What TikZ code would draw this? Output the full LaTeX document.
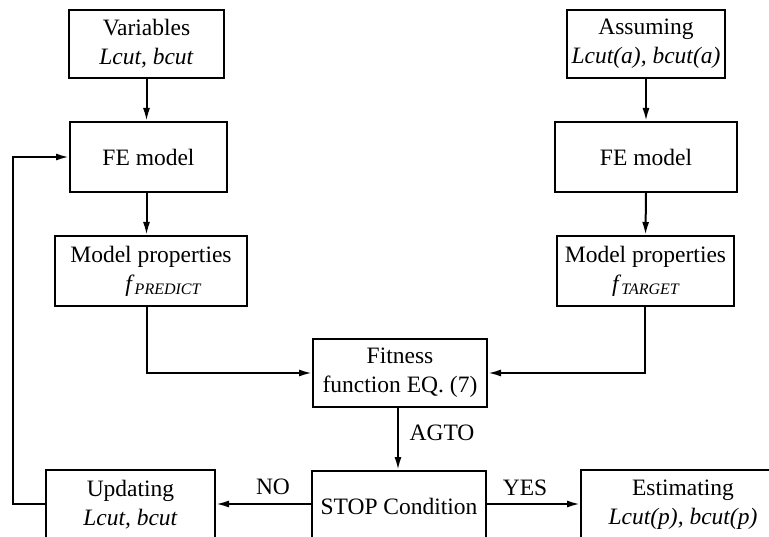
\documentclass[tikz,border=0pt]{standalone}
\usepackage{fontspec}
\setmainfont{Liberation Serif}
\usetikzlibrary{arrows.meta}
\newcommand{\subtxt}[1]{\raisebox{-3pt}{\fontsize{16}{16}\selectfont\itshape #1}}
\begin{document}
\begin{tikzpicture}[x=1pt,y=-1pt,
  box/.style={draw,line width=2pt,inner sep=0pt,align=center,font=\fontsize{23.5}{29}\selectfont},
  conn/.style={line width=2pt,-{Latex[length=13pt,width=7pt]}},
  lbl/.style={font=\fontsize{23.5}{26}\selectfont,inner sep=0pt}]
\useasboundingbox (0,0) rectangle (769,537);
\clip (0,0) rectangle (769,537);
\node[box,minimum width=155pt,minimum height=68pt] (var) at (146.5,44) {Variables\\\textit{Lcut, bcut}};
\node[box,minimum width=157pt,minimum height=70pt] (fe1) at (148.5,157) {FE model};
\node[box,minimum width=192pt,minimum height=70pt] (mp1) at (151,271) {Model properties\\\hspace*{24pt}\textit{f}\subtxt{PREDICT}};
\node[box,minimum width=158pt,minimum height=68pt] (asm) at (646,44) {Assuming\\\textit{Lcut(a), bcut(a)}};
\node[box,minimum width=182pt,minimum height=70pt] (fe2) at (646,157) {FE model};
\node[box,minimum width=177pt,minimum height=70pt] (mp2) at (645.5,271) {Model properties\\\textit{f}\subtxt{TARGET}};
\node[box,minimum width=174pt,minimum height=68pt] (fit) at (400,373) {Fitness\\function EQ. (7)};
\node[box,minimum width=174pt,minimum height=70pt] (stop) at (399,506) {STOP Condition};
\node[box,minimum width=169pt,minimum height=70pt] (upd) at (130.5,505) {Updating\\\textit{Lcut, bcut}};
\node[box,minimum width=204pt,minimum height=70pt] (est) at (683,505) {Estimating\\\textit{Lcut(p), bcut(p)}};
\coordinate (c1) at (146.5,373);
\coordinate (c2) at (645,373);
\coordinate (fb1) at (13,504);
\coordinate (fb2) at (13,157);
\draw[conn] (var.south -| 146.5,0) -- (fe1.north -| 146.5,0);
\draw[conn] (fe1.south -| 146.5,0) -- (mp1.north -| 146.5,0);
\draw[conn] (asm.south) -- (fe2.north);
\draw[conn] (fe2.south) -- (mp2.north);
\draw[conn] (mp1.south -| c1) -- (c1) -- (fit.west);
\draw[conn] (mp2.south -| c2) -- (c2) -- (fit.east);
\draw[conn] (fit.south -| 398,0) -- (stop.north -| 398,0);
\draw[conn] (stop.west |- fb1) -- (upd.east |- fb1);
\draw[conn] (stop.east |- fb1) -- (est.west |- fb1);
\draw[conn] (upd.west |- fb1) -- (fb1) -- (fb2) -- (fe1.west);
\node[lbl] (agto) at (442,433) {AGTO};
\node[lbl] (no) at (273,487) {NO};
\node[lbl] (yes) at (525,488) {YES};
\end{tikzpicture}
\end{document}
